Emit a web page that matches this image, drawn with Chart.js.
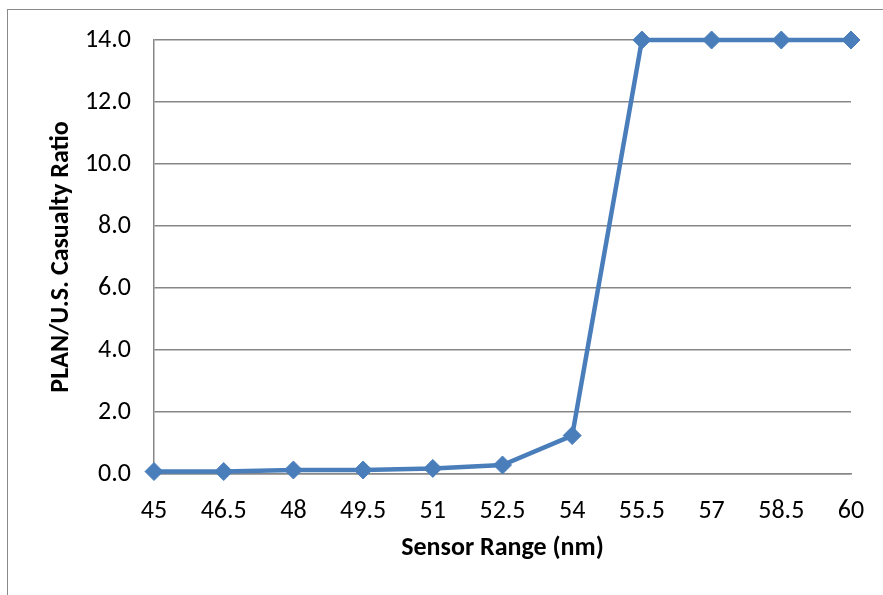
<!DOCTYPE html>
<html>
<head>
<meta charset="utf-8">
<script src="https://cdn.jsdelivr.net/npm/chart.js@4/dist/chart.umd.min.js"></script>
<style>
  html, body { margin: 0; padding: 0; background: #fff; overflow: hidden; }
  #wrap { position: relative; width: 883px; height: 595px; }
  #frame { position: absolute; left: 7px; top: 9px; width: 900px; height: 700px;
           border: 1.5px solid #8a8a8a; box-sizing: border-box; }
  canvas { position: absolute; left: 0; top: 0; }
</style>
</head>
<body>
<div id="wrap">
  <div id="frame"></div>
  <canvas id="c" width="883" height="595"></canvas>
</div>
<script>
// Sensor range (nm) vs. PLAN/U.S. casualty ratio
const sensorRange = ['45', '46.5', '48', '49.5', '51', '52.5', '54', '55.5', '57', '58.5', '60'];
const casualtyRatio = [0.08, 0.08, 0.13, 0.13, 0.18, 0.29, 1.24, 14.0, 14.0, 14.0, 14.0];

const FONT = "Carlito, Calibri, Lato, 'Open Sans', sans-serif";
const GRID = '#878787';
const BLUE = '#4A7EBB';

new Chart(document.getElementById('c'), {
  type: 'line',
  data: {
    labels: sensorRange,
    datasets: [{
      data: casualtyRatio,
      borderColor: BLUE,
      backgroundColor: BLUE,
      borderWidth: 4.5,
      pointStyle: 'rectRot',
      pointRadius: 9,
      pointHoverRadius: 9,
      pointBackgroundColor: BLUE,
      pointBorderColor: BLUE,
      pointBorderWidth: 1,
      tension: 0,
      clip: false
    }]
  },
  options: {
    responsive: false,
    animation: false,
    events: [],
    layout: { padding: { left: 46, right: 32, top: 40, bottom: 31 } },
    plugins: { legend: { display: false }, tooltip: { enabled: false } },
    scales: {
      x: {
        type: 'category',
        offset: false,
        grid: { display: false, drawTicks: false },
        border: { display: true, color: GRID, width: 1.5 },
        ticks: { color: '#000', font: { family: FONT, size: 26 }, padding: 22, maxRotation: 0, autoSkip: false },
        title: { display: true, text: 'Sensor Range (nm)', color: '#000',
                 font: { family: FONT, size: 26, weight: 'bold' }, padding: { top: 4, bottom: 0 } },
        afterFit: (s) => { s.height = 90; s.paddingRight = 0; s.paddingLeft = 0; }
      },
      y: {
        min: 0,
        max: 14,
        grid: { color: GRID, lineWidth: 1.5, drawTicks: false },
        border: { display: true, color: GRID, width: 1.5 },
        ticks: { stepSize: 2, color: '#000', font: { family: FONT, size: 26 }, padding: 23,
                 callback: (v) => Number(v).toFixed(1) },
        title: { display: true, text: 'PLAN/U.S. Casualty Ratio', color: '#000',
                 font: { family: FONT, size: 26, weight: 'bold' }, padding: { top: 0, bottom: 0 } },
        afterFit: (s) => { s.width = 108; }
      }
    }
  }
});
</script>
</body>
</html>
